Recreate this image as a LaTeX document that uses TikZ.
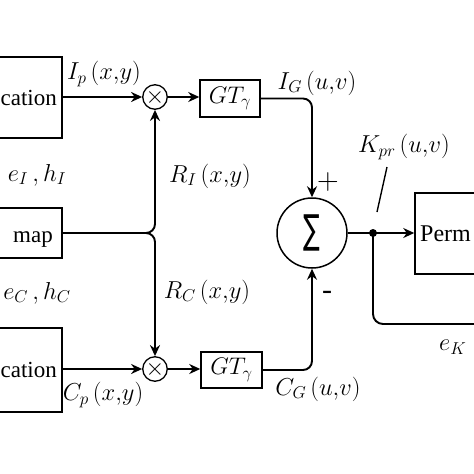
\RequirePackage{fix-cm}
\documentclass[tikz,border=0pt]{standalone}
\usepackage{fontspec}
\setmainfont{Liberation Serif}
\newfontfamily\djvsans{DejaVu Sans}
\usepackage{graphicx}
\usetikzlibrary{arrows.meta,calc}
\begin{document}
\begin{tikzpicture}[x=1pt,y=-1pt,
  blk/.style={draw, line width=1.5pt, inner sep=0pt},
  txt/.style={inner sep=0pt, font=\fontsize{23}{27}\selectfont},
  lbl/.style={inner sep=0pt, font=\fontsize{24.5}{28}\selectfont},
  arr/.style={-{Stealth[length=11pt,width=10pt]}},
  mul/.style={circle, draw, line width=1.3pt, minimum size=24pt, inner sep=0pt},
  line/.style={line width=1.9pt}]
\useasboundingbox (0,0) rectangle (474,474);
\clip (0,0) rectangle (474,474);

% left blocks
\node[blk, minimum width=130pt, minimum height=81pt] (src1) at (-3,97.5) {};
\node[txt, anchor=base east] (src1t) at (57,105) {cation};
\node[blk, minimum width=130pt, minimum height=50pt] (rmap) at (-3,233) {};
\node[txt, anchor=base east] (rmapt) at (53,242) {map};
\node[blk, minimum width=130pt, minimum height=84pt] (src2) at (-3,370) {};
\node[txt, anchor=base east] (src2t) at (57,377) {cation};

% multipliers
\node[mul] (mul1) at (155,97) {\fontsize{24}{24}\selectfont$\times$};
\node[mul] (mul2) at (155,369) {\fontsize{24}{24}\selectfont$\times$};

% GT blocks
\node[blk, minimum width=60pt, minimum height=37pt] (gt1) at (230,98.5) {\fontsize{24}{28}\selectfont$GT_{\gamma}$};
\node[blk, minimum width=61pt, minimum height=36pt] (gt2) at (231.5,370) {\fontsize{24}{28}\selectfont$GT_{\gamma}$};

% summation
\node[circle, draw, line width=1.5pt, minimum size=70pt, inner sep=0pt] (sum) at (312,233)
  {\scalebox{0.62}[1]{\djvsans\fontsize{40}{40}\selectfont ∑}};

% junction dot and permutation block
\node[circle, fill, minimum size=8pt, inner sep=0pt] (dot) at (373,233) {};
\node[blk, minimum width=120pt, minimum height=81pt] (perm) at (475,233.5) {};
\node[txt, anchor=base west, font=\fontsize{24}{28}\selectfont] (permt) at (420,241) {Perm};

% connectors
\draw[line, arr] (src1.east |- mul1) -- (mul1.west);
\draw[line, arr] (src2.east |- mul2) -- (mul2.west);
\draw[line, arr] (mul1.east) -- (gt1.west |- mul1);
\draw[line, arr] (mul2.east) -- (gt2.west |- mul2);
\draw[line, arr, rounded corners=9pt] (rmap.east) -| (mul1.south);
\draw[line, arr, rounded corners=9pt] (rmap.east) -| (mul2.north);
\draw[line, arr, rounded corners=9pt] (gt1.east) -| (sum.north);
\draw[line, arr, rounded corners=9pt] (gt2.east) -| (sum.south);
\draw[line] (sum.east) -- (dot.center);
\draw[line, arr] (dot.center) -- (dot -| perm.west);
\coordinate (fbend) at (480,324);
\draw[line, rounded corners=10pt] (dot.center) |- (fbend);
\coordinate (sl1) at (387,167);
\coordinate (sl2) at (377,212);
\draw[line width=1.4pt] (sl1) -- (sl2);

% labels
\node[lbl] (lIp) at (104,74) {$I_{p}\,(x{,}y)$};
\node[lbl] (leI) at (37,175) {$e_{I}\,,h_{I}$};
\node[lbl] (lRI) at (210,176) {$R_{I}\,(x{,}y)$};
\node[lbl] (leC) at (37,293) {$e_{C}\,,h_{C}$};
\node[lbl] (lRC) at (207,292) {$R_{C}\,(x{,}y)$};
\node[lbl] (lCp) at (103,395) {$C_{p}\,(x{,}y)$};
\node[lbl] (lIG) at (317,83) {$I_{G}\,(u{,}v)$};
\node[lbl] (lKpr) at (404,147) {$K_{pr}\,(u{,}v)$};
\node[lbl] (lCG) at (318,389) {$C_{G}\,(u{,}v)$};
\node[lbl, font=\fontsize{30}{30}\selectfont] (lplus) at (328,182) {$+$};
\node[lbl, font=\fontsize{30}{30}\selectfont] (lminus) at (327,295) {-};
\node[lbl, anchor=west] (leK) at (439,347) {$e_{K}$};
\end{tikzpicture}
\end{document}
